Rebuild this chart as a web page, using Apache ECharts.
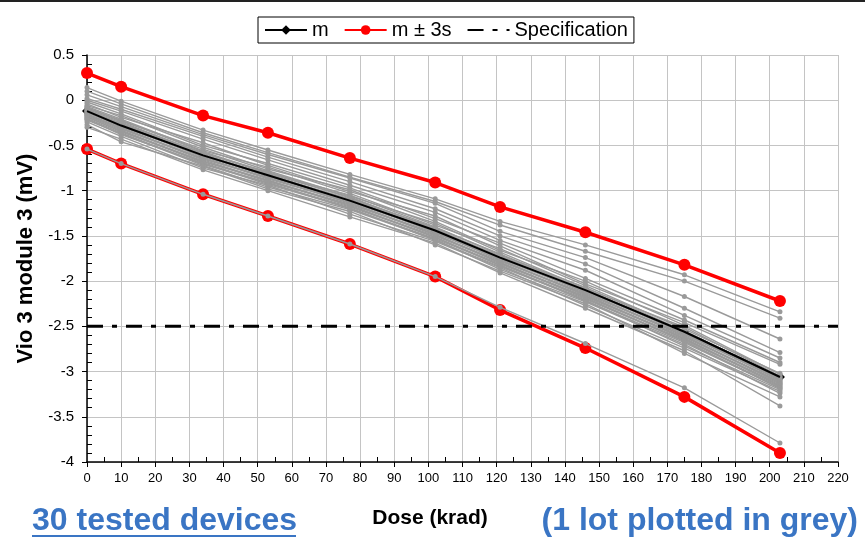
<!DOCTYPE html>
<html>
<head>
<meta charset="utf-8">
<script src="https://cdn.jsdelivr.net/npm/echarts@6/dist/echarts.min.js"></script>
<style>
  html, body { margin: 0; padding: 0; background: #fff; }
  #chart { width: 865px; height: 540px; }
</style>
</head>
<body>
<div id="chart"></div>
<script>
// Dose steps (krad) at which every device was measured
const doses = [0, 10, 34, 53, 77, 102, 121, 146, 175, 203];

// Lot statistics (mV)
const meanValues = [-0.12, -0.28, -0.61, -0.83, -1.11, -1.44, -1.74, -2.10, -2.56, -3.06];
const upper3s   = [0.30, 0.15, -0.17, -0.36, -0.64, -0.91, -1.18, -1.46, -1.82, -2.22];
const lower3s   = [-0.54, -0.70, -1.04, -1.28, -1.59, -1.95, -2.32, -2.74, -3.28, -3.90];

// Specification limit (mV)
const specLimit = -2.5;

// Individual devices of the lot (mV), one row per device
const deviceValues = [
  [0.14, -0.01, -0.33, -0.55, -0.82, -1.09, -1.34, -1.60, -1.93, -2.34],
  [0.10, -0.04, -0.36, -0.58, -0.85, -1.12, -1.38, -1.67, -2.00, -2.41],
  [0.06, -0.07, -0.38, -0.60, -0.86, -1.14, -1.45, -1.74, -2.17, -2.64],
  [0.02, -0.10, -0.40, -0.63, -0.90, -1.20, -1.50, -1.81, -2.30, -2.79],
  [0.00, -0.12, -0.43, -0.66, -0.94, -1.24, -1.55, -1.88, -2.38, -2.85],
  [-0.02, -0.15, -0.50, -0.70, -0.97, -1.31, -1.58, -1.97, -2.43, -2.90],
  [-0.04, -0.19, -0.47, -0.72, -1.01, -1.28, -1.61, -2.03, -2.46, -2.92],
  [-0.06, -0.17, -0.52, -0.76, -0.99, -1.34, -1.66, -2.00, -2.49, -3.03],
  [-0.07, -0.21, -0.56, -0.74, -1.03, -1.38, -1.64, -2.05, -2.53, -3.02],
  [-0.08, -0.23, -0.54, -0.78, -1.06, -1.36, -1.68, -2.08, -2.51, -3.05],
  [-0.09, -0.22, -0.57, -0.80, -1.05, -1.40, -1.71, -2.07, -2.55, -3.07],
  [-0.10, -0.24, -0.59, -0.79, -1.08, -1.41, -1.70, -2.10, -2.56, -3.06],
  [-0.11, -0.26, -0.58, -0.81, -1.07, -1.43, -1.72, -2.09, -2.58, -3.08],
  [-0.12, -0.25, -0.60, -0.83, -1.09, -1.42, -1.74, -2.11, -2.57, -3.10],
  [-0.13, -0.27, -0.62, -0.82, -1.11, -1.44, -1.73, -2.13, -2.59, -3.09],
  [-0.13, -0.29, -0.61, -0.84, -1.10, -1.46, -1.75, -2.12, -2.61, -3.11],
  [-0.14, -0.28, -0.63, -0.86, -1.12, -1.45, -1.77, -2.14, -2.60, -3.13],
  [-0.15, -0.30, -0.65, -0.85, -1.14, -1.47, -1.76, -2.16, -2.62, -3.12],
  [-0.16, -0.32, -0.64, -0.87, -1.13, -1.49, -1.78, -2.15, -2.64, -3.14],
  [-0.16, -0.31, -0.66, -0.89, -1.15, -1.48, -1.80, -2.17, -2.63, -3.16],
  [-0.17, -0.33, -0.68, -0.88, -1.17, -1.50, -1.79, -2.19, -2.65, -3.15],
  [-0.18, -0.35, -0.67, -0.90, -1.16, -1.52, -1.81, -2.18, -2.67, -3.17],
  [-0.19, -0.34, -0.69, -0.92, -1.18, -1.51, -1.83, -2.20, -2.66, -3.19],
  [-0.20, -0.36, -0.71, -0.91, -1.20, -1.53, -1.82, -2.22, -2.68, -3.18],
  [-0.21, -0.38, -0.70, -0.93, -1.19, -1.55, -1.84, -2.21, -2.72, -3.20],
  [-0.22, -0.37, -0.72, -0.96, -1.21, -1.54, -1.87, -2.23, -2.70, -3.24],
  [-0.24, -0.40, -0.75, -0.94, -1.26, -1.56, -1.85, -2.27, -2.74, -3.22],
  [-0.27, -0.46, -0.73, -0.98, -1.23, -1.60, -1.89, -2.25, -2.80, -3.28],
  [-0.30, -0.43, -0.77, -1.00, -1.29, -1.58, -1.91, -2.30, -2.77, -3.38],
  [-0.54, -0.70, -1.04, -1.28, -1.59, -1.95, -2.29, -2.69, -3.18, -3.79]
];

const FONT = '"Liberation Sans", Arial, sans-serif';
const BLUE = '#3a75c4';
const GREY = '#9a9a9a';

function pairs(values) {
  return doses.map((d, i) => [d, values[i]]);
}

const series = [];

// m ± 3s envelope
series.push({
  name: 'm ± 3s', type: 'line', z: 1, data: pairs(upper3s),
  symbol: 'circle', symbolSize: 12,
  lineStyle: { color: '#ff0000', width: 3.5 },
  itemStyle: { color: '#ff0000' }
});
series.push({
  name: 'm ± 3s', type: 'line', z: 1, data: pairs(lower3s),
  symbol: 'circle', symbolSize: 12,
  lineStyle: { color: '#ff0000', width: 3.5 },
  itemStyle: { color: '#ff0000' }
});

// mean with diamond markers (sits below the grey devices)
series.push({
  name: 'm', type: 'line', z: 2, data: pairs(meanValues),
  symbol: 'diamond', symbolSize: 10,
  lineStyle: { color: '#000', width: 2 },
  itemStyle: { color: '#000' }
});

// grey device curves
deviceValues.forEach((vals, k) => {
  series.push({
    name: 'device ' + (k + 1), type: 'line', z: 3, data: pairs(vals),
    symbol: 'circle', symbolSize: 5,
    lineStyle: { color: GREY, width: 1.4 },
    itemStyle: { color: GREY }
  });
});

// mean trace drawn again above the grey curves
series.push({
  name: 'm trace', type: 'line', z: 4, data: pairs(meanValues),
  symbol: 'none',
  lineStyle: { color: '#000', width: 2 }
});

// specification limit
series.push({
  name: 'Specification', type: 'line', z: 5,
  data: [[0, specLimit], [220, specLimit]],
  symbol: 'none',
  lineStyle: { color: '#000', width: 3, type: [16, 9, 5, 9] },
  itemStyle: { color: '#000' }
});

const chart = echarts.init(document.getElementById('chart'), null, { renderer: 'canvas' });
chart.setOption({
  animation: false,
  backgroundColor: '#fff',
  textStyle: { fontFamily: FONT },
  grid: { left: 87, right: 27, top: 55, bottom: 78, containLabel: false },
  legend: {
    data: ['m', 'm ± 3s', { name: 'Specification', itemStyle: { opacity: 0 } }],
    left: 258, top: 17,
    backgroundColor: '#fff',
    borderColor: '#000', borderWidth: 1, borderRadius: 0,
    padding: [3, 6, 3, 6],
    itemWidth: 42, itemHeight: 12, itemGap: 15,
    textStyle: { fontFamily: FONT, fontSize: 20, color: '#000' }
  },
  xAxis: {
    type: 'value', min: 0, max: 220, interval: 10,
    axisLine: { show: true, onZero: false, lineStyle: { color: '#000', width: 1.5 } },
    axisTick: { show: true, inside: false, length: 5, lineStyle: { color: '#000', width: 1 } },
    minorTick: { show: true, splitNumber: 2, length: -5, lineStyle: { color: '#000', width: 1 } },
    axisLabel: { fontFamily: FONT, fontSize: 13, color: '#000', margin: 10 },
    splitLine: { show: true, lineStyle: { color: '#c4c4c4', width: 1 } }
  },
  yAxis: {
    type: 'value', min: -4, max: 0.5, interval: 0.5,
    name: 'Vio 3 module 3 (mV)', nameLocation: 'middle', nameGap: 49,
    nameTextStyle: { fontFamily: FONT, fontSize: 22, fontWeight: 'bold', color: '#000' },
    axisLine: { show: true, onZero: false, lineStyle: { color: '#000', width: 1.5 } },
    axisTick: { show: true, inside: false, length: 5, lineStyle: { color: '#000', width: 1 } },
    minorTick: { show: true, splitNumber: 5, length: -5, lineStyle: { color: '#000', width: 1 } },
    axisLabel: { fontFamily: FONT, fontSize: 15, color: '#000', margin: 13 },
    splitLine: { show: true, lineStyle: { color: '#c4c4c4', width: 1 } }
  },
  graphic: [
    { type: 'rect', left: 0, top: 0, shape: { width: 865, height: 2 }, style: { fill: '#222' } },
    {
      type: 'text', x: 430, y: 518,
      style: { text: 'Dose (krad)', fill: '#000', font: 'bold 21px ' + FONT, align: 'center', verticalAlign: 'middle' }
    },
    {
      type: 'text', x: 32, y: 521,
      style: { text: '30 tested devices', fill: BLUE, font: 'bold 32px ' + FONT, align: 'left', verticalAlign: 'middle' }
    },
    { type: 'rect', left: 32, top: 535, shape: { width: 264, height: 2 }, style: { fill: BLUE } },
    {
      type: 'text', x: 858, y: 521,
      style: { text: '(1 lot plotted in grey)', fill: BLUE, font: 'bold 32px ' + FONT, align: 'right', verticalAlign: 'middle' }
    }
  ],
  series: series
});
</script>
</body>
</html>
